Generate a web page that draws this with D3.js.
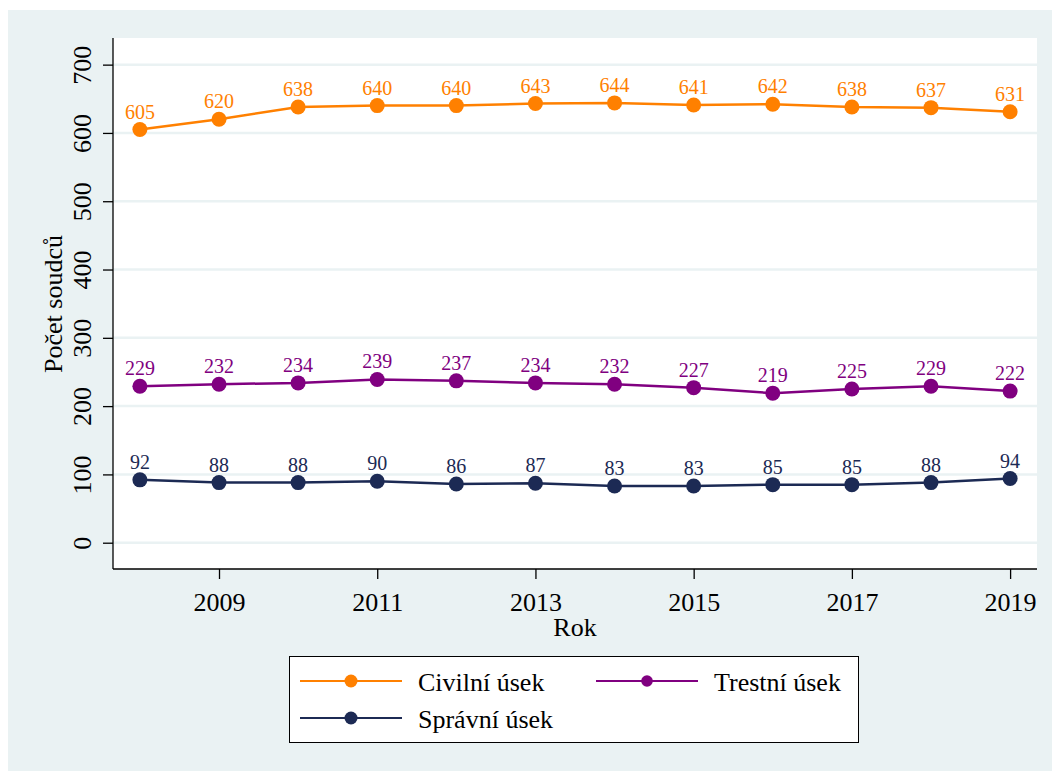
<!DOCTYPE html>
<html><head><meta charset="utf-8">
<script src="https://cdn.jsdelivr.net/npm/d3@7"></script>
<style>body{margin:0;background:#fff}svg{display:block}</style>
</head><body>
<svg id="c" width="1052" height="771"></svg>
<script>
const years = [2008,2009,2010,2011,2012,2013,2014,2015,2016,2017,2018,2019];
const civilni = [605,620,638,640,640,643,644,641,642,638,637,631];
const trestni = [229,232,234,239,237,234,232,227,219,225,229,222];
const spravni = [92,88,88,90,86,87,83,83,85,85,88,94];
const seriesNames = ["Civilní úsek","Trestní úsek","Správní úsek"];
const seriesColors = ["#FF8000","#800080","#1C2A54"];
const yTicks = [0,100,200,300,400,500,600,700];
const xTicks = [2009,2011,2013,2015,2017,2019];

const font = "'Liberation Serif','Times New Roman',serif";
const svg = d3.select("#c");
svg.append("rect").attr("x",8).attr("y",10).attr("width",1044).attr("height",761).attr("fill","#EAF2F3");

const L=113,R=1037,T=38,B=569;
const x = d3.scaleLinear().domain([2007.66,2019.34]).range([L,R]);
const y = d3.scaleLinear().domain([-38.5,739]).range([B,T]);

svg.append("rect").attr("x",L).attr("y",T).attr("width",R-L).attr("height",B-T).attr("fill","#fff");
// gridlines
svg.append("g").selectAll("line").data(yTicks).join("line")
  .attr("x1",L).attr("x2",R).attr("y1",d=>y(d)).attr("y2",d=>y(d))
  .attr("stroke","#EAF2F3").attr("stroke-width",2.5);

// y axis
const ya = svg.append("g").attr("transform",`translate(${L},0)`)
  .call(d3.axisLeft(y).tickValues(yTicks).tickSize(10).tickSizeOuter(0).tickFormat(d3.format("d")));
ya.select(".domain").attr("d",`M0,${T}V${B}`).attr("stroke","#000").attr("stroke-width",1.3);
ya.selectAll(".tick line").attr("stroke","#000").attr("stroke-width",1.3);
ya.selectAll(".tick text").attr("font-family",font).attr("font-size",26).attr("fill","#000")
  .attr("text-anchor","middle").attr("x",null).attr("dy",null)
  .attr("transform","translate(-22,0) rotate(-90)");

// x axis
const xa = svg.append("g").attr("transform",`translate(0,${B})`)
  .call(d3.axisBottom(x).tickValues(xTicks).tickSize(10).tickSizeOuter(0).tickFormat(d3.format("d")));
xa.select(".domain").attr("d",`M${L},0H${R}`).attr("stroke","#000").attr("stroke-width",1.3);
xa.selectAll(".tick line").attr("stroke","#000").attr("stroke-width",1.3);
xa.selectAll(".tick text").attr("font-family",font).attr("font-size",26).attr("fill","#000")
  .attr("y",42).attr("dy",null);

svg.append("text").attr("x",575).attr("y",636).attr("text-anchor","middle")
  .attr("font-family",font).attr("font-size",26).text("Rok");
svg.append("text").attr("transform","translate(62,304) rotate(-90)").attr("text-anchor","middle")
  .attr("font-family",font).attr("font-size",26).text("Počet soudců");

const data = [civilni,trestni,spravni];
const line = d3.line().x((d,i)=>x(years[i])).y(d=>y(d));
data.forEach((vals,k)=>{
  const g = svg.append("g");
  g.append("path").datum(vals).attr("d",line).attr("fill","none")
    .attr("stroke",seriesColors[k]).attr("stroke-width",2.5);
  g.selectAll("circle").data(vals).join("circle")
    .attr("cx",(d,i)=>x(years[i])).attr("cy",d=>y(d)).attr("r",7.5).attr("fill",seriesColors[k]);
  g.selectAll("text").data(vals).join("text")
    .attr("x",(d,i)=>x(years[i])).attr("y",d=>y(d)-11).attr("text-anchor","middle")
    .attr("font-family",font).attr("font-size",20).attr("fill",seriesColors[k]).text(d=>d);
});

// legend
svg.append("rect").attr("x",289.5).attr("y",656.5).attr("width",569).attr("height",86)
  .attr("fill","#fff").attr("stroke","#000").attr("stroke-width",1);
const legPos = [[300,681],[596,681],[300,718]];
const legR = [6.5,5.8,6.5];
seriesNames.forEach((n,k)=>{
  const [lx,ly]=legPos[k];
  svg.append("line").attr("x1",lx).attr("x2",lx+102).attr("y1",ly).attr("y2",ly)
    .attr("stroke",seriesColors[k]).attr("stroke-width",2);
  svg.append("circle").attr("cx",lx+51).attr("cy",ly).attr("r",legR[k]).attr("fill",seriesColors[k]);
  svg.append("text").attr("x",lx+118).attr("y",ly+10).attr("font-family",font)
    .attr("font-size",26).attr("fill","#000").text(n);
});
</script>
</body></html>
